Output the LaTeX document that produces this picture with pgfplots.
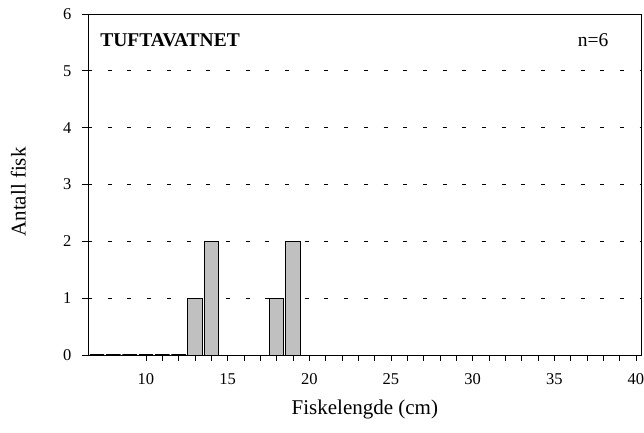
\documentclass[border=0pt]{standalone}
\usepackage{fontspec}
\setmainfont{Liberation Serif}
\usepackage{pgfplots}
\pgfplotsset{compat=1.18}
\begin{document}
\begin{tikzpicture}[x=1pt,y=1pt]
\path[use as bounding box] (0,0) rectangle (644,432);
\begin{axis}[
  at={(88pt,77pt)}, anchor=south west,
  scale only axis, width=553.7pt, height=341pt,
  xmin=6.45, xmax=40.35, ymin=0, ymax=6,
  xtick={10,15,...,40}, minor x tick num=4,
  ytick={0,1,...,6},
  tick pos=left, tick align=outside,
  major tick length=6pt, minor tick length=6pt,
  every tick/.style={black, line width=0.8pt},
  axis line style={line width=0.9pt},
  ymajorgrids, grid style={black, line width=0.8pt, dash pattern=on 4pt off 15.7pt},
  /pgf/number format/assume math mode=true,
  tick label style={font=\fontsize{16.5}{18}\selectfont},
  xticklabel style={yshift=-9pt},
  yticklabel style={xshift=-7pt},
  xlabel={Fiskelengde (cm)}, ylabel={Antall fisk},
  label style={font=\fontsize{21}{23}\selectfont},
  xlabel style={at={(axis description cs:0.5,-0.16)}, anchor=center},
  ylabel style={at={(axis description cs:-0.126,0.478)}, anchor=center},
  ybar, bar width=0.88, bar shift=0pt,
  clip=false,
]
\addplot[fill={rgb,255:red,192;green,192;blue,192}, draw=black, line width=1.6pt] coordinates {
 (7,0) (8,0) (9,0) (10,0) (11,0) (12,0)
};
\addplot[fill={rgb,255:red,192;green,192;blue,192}, draw=black, line width=0.9pt] coordinates {
 (13,1) (14,2) (18,1) (19,2)
};
\node[anchor=west, font=\bfseries\fontsize{19.5}{21}\selectfont] at (rel axis cs:0.016,0.924) {TUFTAVATNET};
\node[anchor=east, font=\fontsize{19.5}{21}\selectfont] at (rel axis cs:0.946,0.924) {n=6};
\end{axis}
\end{tikzpicture}
\end{document}
